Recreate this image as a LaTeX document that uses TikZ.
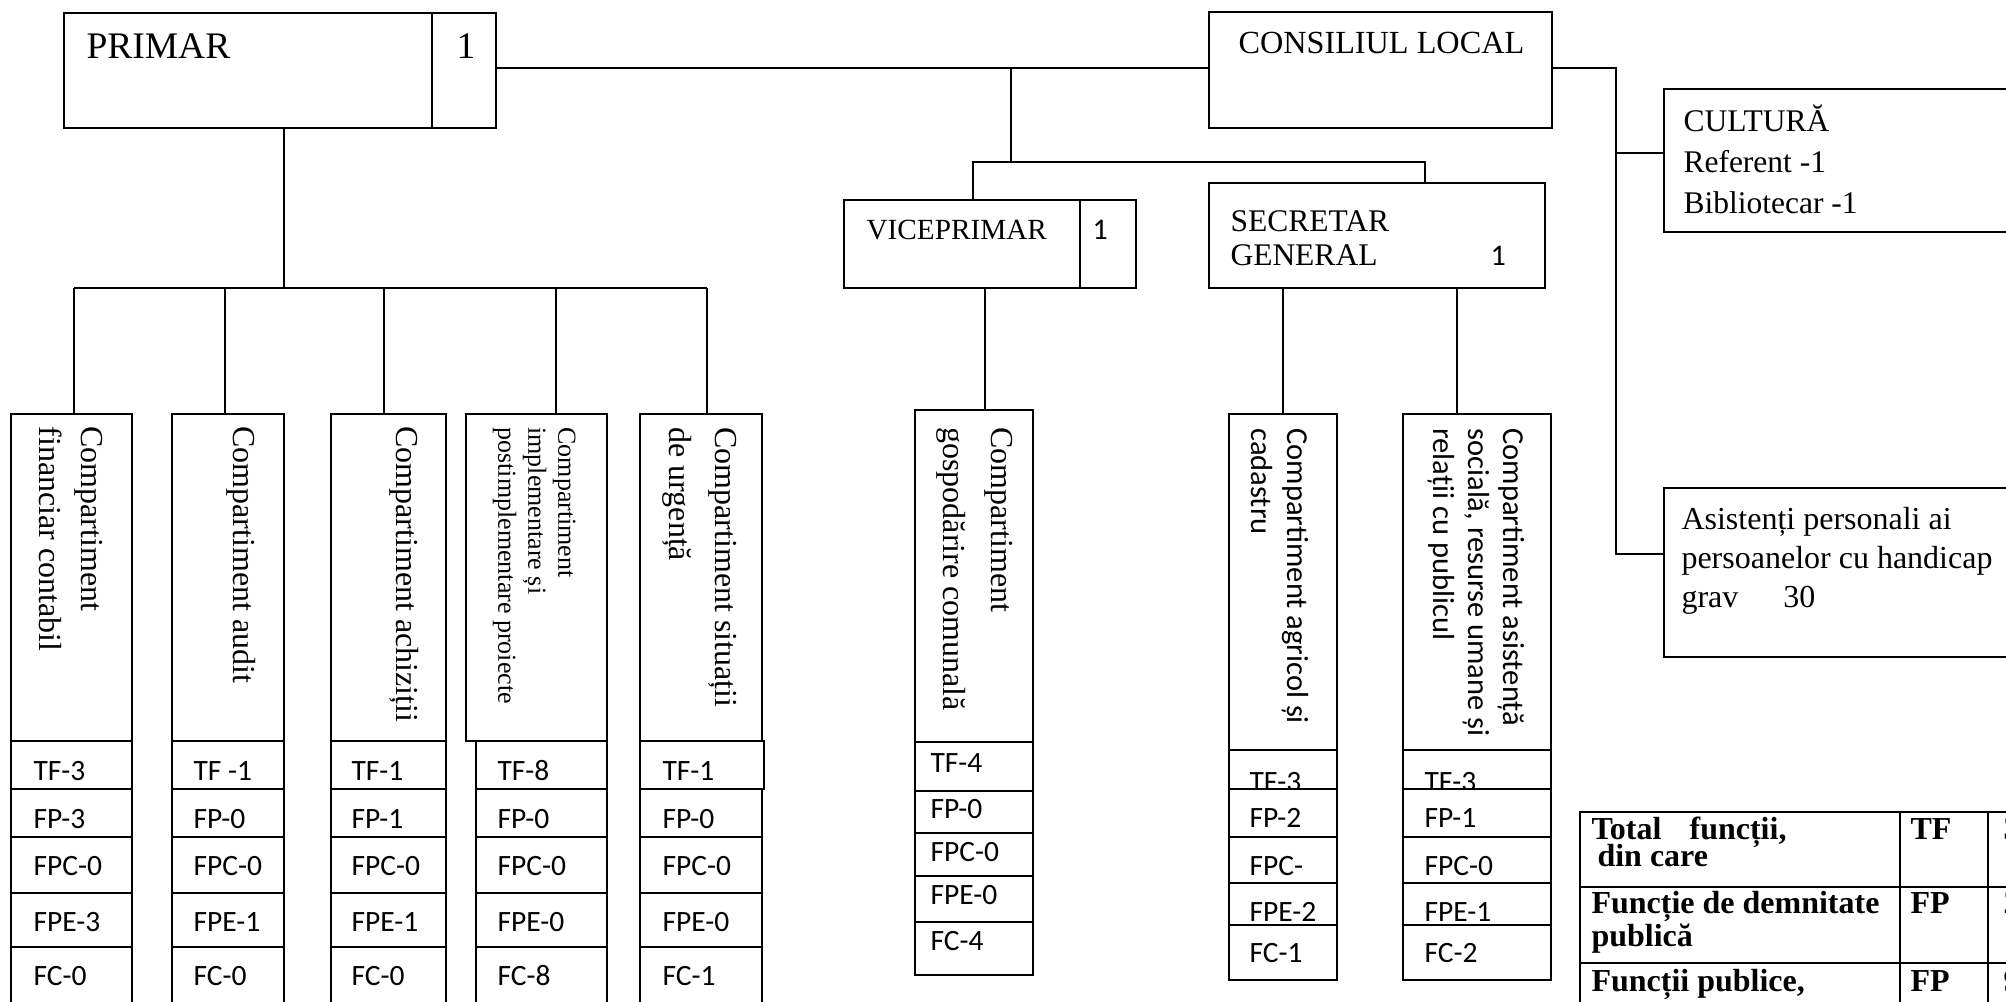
\documentclass[tikz,border=0pt]{standalone}
\usepackage{fontspec}
\setmainfont{Liberation Serif}
\newfontfamily\calib{Carlito}
\usepackage{tikz}

\begin{document}
\begin{tikzpicture}[
    x=0.4pt, y=-0.4pt,
    box/.style = {rectangle, draw, line width=0.8pt, inner sep=0pt, fill=white},
    txt/.style = {anchor=base west, inner sep=0pt, font=\fontsize{12.6}{15}\selectfont},
    num/.style = {anchor=base west, inner sep=0pt, font=\calib\fontsize{11.8}{14}\selectfont},
    vtxt/.style = {anchor=north west, rotate=-90, inner sep=0pt, align=left},
    tbl/.style = {anchor=base west, inner sep=0pt, font=\bfseries\fontsize{12.8}{15}\selectfont},
    conn/.style = {line width=0.8pt}
]

\useasboundingbox (0,0) rectangle (2006,1001);
\clip (0,0) rectangle (2006,1001);

% Top level
\node[box, minimum width=147.2pt, minimum height=46pt] (primar) at (248,70.5) {};
\node[box, minimum width=25.6pt, minimum height=46pt] (primarnr) at (464,70.5) {};
\node[txt, font=\fontsize{15}{18}\selectfont] at (86,58) {PRIMAR};
\node[txt, font=\fontsize{15}{18}\selectfont] at (456,58) {1};

\node[box, minimum width=137.2pt, minimum height=46.4pt] (consiliul) at (1380.5,70) {};
\node[txt, font=\fontsize{12.9}{15}\selectfont] at (1238,53) {CONSILIUL LOCAL};

\node[box, minimum width=94.4pt, minimum height=35.2pt] (vice) at (962,244) {};
\node[box, minimum width=22.4pt, minimum height=35.2pt] (vicenr) at (1108,244) {};
\node[txt, font=\fontsize{11.7}{14}\selectfont] at (866,239) {VICEPRIMAR};
\node[num, font=\calib\fontsize{12}{14}\selectfont] at (1092,239) {1};

\node[box, minimum width=134.4pt, minimum height=42pt] (secretar) at (1377,235.5) {};
\node[txt] at (1230,231) {SECRETAR};
\node[txt] at (1230,265) {GENERAL};
\node[num, font=\calib\fontsize{12}{14}\selectfont] at (1490,265) {1};

\node[box, minimum width=174.4pt, minimum height=57.2pt] (cultura) at (1882,160.5) {};
\node[txt] at (1683,131) {CULTURĂ};
\node[txt] at (1683,172) {Referent -1};
\node[txt] at (1683,213) {Bibliotecar -1};

\node[box, minimum width=174.4pt, minimum height=67.6pt] (asistenti) at (1882,572.5) {};
\node[txt, font=\fontsize{12.8}{15}\selectfont] at (1681,529) {Asistenți personali ai};
\node[txt, font=\fontsize{12.8}{15}\selectfont] at (1681,568) {persoanelor cu handicap};
\node[txt, font=\fontsize{12.8}{15}\selectfont] at (1681,607) {grav\hspace{18pt}30};

% Compartments under PRIMAR
\node[box, minimum width=48.4pt, minimum height=130.8pt] (fin) at (71.5,577.5) {};
\node[box, minimum width=48.4pt, minimum height=19.2pt] (fintf) at (71.5,765) {};
\node[box, minimum width=48.4pt, minimum height=19.2pt] (finfp) at (71.5,813) {};
\node[box, minimum width=48.4pt, minimum height=22.4pt] (finfpc) at (71.5,865) {};
\node[box, minimum width=48.4pt, minimum height=21.6pt] (finfpe) at (71.5,920) {};
\node[box, minimum width=48.4pt, minimum height=25.2pt] (finfc) at (71.5,978.5) {};

\node[box, minimum width=44.8pt, minimum height=130.8pt] (audit) at (228,577.5) {};
\node[box, minimum width=44.8pt, minimum height=19.2pt] (audittf) at (228,765) {};
\node[box, minimum width=44.8pt, minimum height=19.2pt] (auditfp) at (228,813) {};
\node[box, minimum width=44.8pt, minimum height=22.4pt] (auditfpc) at (228,865) {};
\node[box, minimum width=44.8pt, minimum height=21.6pt] (auditfpe) at (228,920) {};
\node[box, minimum width=44.8pt, minimum height=25.2pt] (auditfc) at (228,978.5) {};

\node[box, minimum width=46pt, minimum height=130.8pt] (achiz) at (388.5,577.5) {};
\node[box, minimum width=46pt, minimum height=19.2pt] (achiztf) at (388.5,765) {};
\node[box, minimum width=46pt, minimum height=19.2pt] (achizfp) at (388.5,813) {};
\node[box, minimum width=46pt, minimum height=22.4pt] (achizfpc) at (388.5,865) {};
\node[box, minimum width=46pt, minimum height=21.6pt] (achizfpe) at (388.5,920) {};
\node[box, minimum width=46pt, minimum height=25.2pt] (achizfc) at (388.5,978.5) {};

\node[box, minimum width=56.4pt, minimum height=130.8pt] (impl) at (536.5,577.5) {};
\node[box, minimum width=52.4pt, minimum height=19.2pt] (impltf) at (541.5,765) {};
\node[box, minimum width=52.4pt, minimum height=19.2pt] (implfp) at (541.5,813) {};
\node[box, minimum width=52.4pt, minimum height=22.4pt] (implfpc) at (541.5,865) {};
\node[box, minimum width=52.4pt, minimum height=21.6pt] (implfpe) at (541.5,920) {};
\node[box, minimum width=52.4pt, minimum height=25.2pt] (implfc) at (541.5,978.5) {};

\node[box, minimum width=48.8pt, minimum height=130.8pt] (urg) at (701,577.5) {};
\node[box, minimum width=49.6pt, minimum height=19.2pt] (urgtf) at (702,765) {};
\node[box, minimum width=48.8pt, minimum height=19.2pt] (urgfp) at (701,813) {};
\node[box, minimum width=48.8pt, minimum height=22.4pt] (urgfpc) at (701,865) {};
\node[box, minimum width=48.8pt, minimum height=21.6pt] (urgfpe) at (701,920) {};
\node[box, minimum width=48.8pt, minimum height=25.2pt] (urgfc) at (701,978.5) {};

% Titles (rotated)
\node[vtxt, font=\fontsize{12.8}{16.8}\selectfont] at (103,426) {Compartiment\\financiar contabil};
\node[vtxt, font=\fontsize{12.8}{16.8}\selectfont] at (256,426) {Compartiment audit};
\node[vtxt, font=\fontsize{12.8}{16.8}\selectfont] at (419,426) {Compartiment achiziții};
\node[vtxt, font=\fontsize{10.4}{12}\selectfont] at (576,427) {Compartiment\\implementare și\\postimplementare proiecte};
\node[vtxt, font=\fontsize{12.8}{18.4}\selectfont] at (737,427) {Compartiment situații\\de urgență};

% Numbers
\node[num] at (33,780) {TF-3};
\node[num] at (33,828) {FP-3};
\node[num] at (33,875) {FPC-0};
\node[num] at (33,931) {FPE-3};
\node[num] at (33,985) {FC-0};

\node[num] at (193,780) {TF -1};
\node[num] at (193,828) {FP-0};
\node[num] at (193,875) {FPC-0};
\node[num] at (193,931) {FPE-1};
\node[num] at (193,985) {FC-0};

\node[num] at (351,780) {TF-1};
\node[num] at (351,828) {FP-1};
\node[num] at (351,875) {FPC-0};
\node[num] at (351,931) {FPE-1};
\node[num] at (351,985) {FC-0};

\node[num] at (497,780) {TF-8};
\node[num] at (497,828) {FP-0};
\node[num] at (497,875) {FPC-0};
\node[num] at (497,931) {FPE-0};
\node[num] at (497,985) {FC-8};

\node[num] at (662,780) {TF-1};
\node[num] at (662,828) {FP-0};
\node[num] at (662,875) {FPC-0};
\node[num] at (662,931) {FPE-0};
\node[num] at (662,985) {FC-1};

% Compartment under VICEPRIMAR
\node[box, minimum width=47.2pt, minimum height=132.8pt] (gosp) at (974,576) {};
\node[box, minimum width=47.2pt, minimum height=19.6pt] (gosptf) at (974,766.5) {};
\node[box, minimum width=47.2pt, minimum height=16.8pt] (gospfp) at (974,812) {};
\node[box, minimum width=47.2pt, minimum height=17.2pt] (gospfpc) at (974,854.5) {};
\node[box, minimum width=47.2pt, minimum height=18.4pt] (gospfpe) at (974,899) {};
\node[box, minimum width=47.2pt, minimum height=21.2pt] (gospfc) at (974,948.5) {};
\node[vtxt, font=\fontsize{12.8}{19.2}\selectfont] at (1013,427) {Compartiment\\gospodărire comunală};
\node[num] at (930,772) {TF-4};
\node[num] at (930,818) {FP-0};
\node[num] at (930,861) {FPC-0};
\node[num] at (930,904) {FPE-0};
\node[num] at (930,950) {FC-4};

% Compartments under SECRETAR GENERAL
\node[box, minimum width=43.2pt, minimum height=134.4pt] (agric) at (1283,582) {};
\node[vtxt, font=\calib\fontsize{12.2}{14.4}\selectfont] at (1309,428) {Compartiment agricol și\\cadastru};
\node[box, minimum width=43.2pt, minimum height=15.6pt] (agrictf) at (1283,769.5) {};
\node[num] at (1249,791) {TF-3};
\node[box, minimum width=43.2pt, minimum height=19.2pt] (agricfp) at (1283,813) {};
\node[box, minimum width=43.2pt, minimum height=18.4pt] (agricfpc) at (1283,860) {};
\node[box, minimum width=43.2pt, minimum height=16.8pt] (agricfpe) at (1283,904) {};
\node[box, minimum width=43.2pt, minimum height=22pt] (agricfc) at (1283,952.5) {};
\node[num] at (1249,827.5) {FP-2};
\node[num] at (1249,875) {FPC-};
\node[num] at (1249,921) {FPE-2};
\node[num] at (1249,962) {FC-1};

\node[box, minimum width=59.2pt, minimum height=134.4pt] (asist) at (1477,582) {};
\node[vtxt, font=\calib\fontsize{12.2}{14}\selectfont] at (1525,428) {Compartiment asistență\\socială, resurse umane și\\relații cu publicul};
\node[box, minimum width=59.2pt, minimum height=15.6pt] (asisttf) at (1477,769.5) {};
\node[num] at (1424,791) {TF-3};
\node[box, minimum width=59.2pt, minimum height=19.2pt] (asistfp) at (1477,813) {};
\node[box, minimum width=59.2pt, minimum height=18.4pt] (asistfpc) at (1477,860) {};
\node[box, minimum width=59.2pt, minimum height=16.8pt] (asistfpe) at (1477,904) {};
\node[box, minimum width=59.2pt, minimum height=22pt] (asistfc) at (1477,952.5) {};
\node[num] at (1424,827.5) {FP-1};
\node[num] at (1424,875) {FPC-0};
\node[num] at (1424,921) {FPE-1};
\node[num] at (1424,962) {FC-2};

% Summary table
\node[box, minimum width=128pt, minimum height=30pt] (tot) at (1740,849.5) {};
\node[box, minimum width=35.2pt, minimum height=30pt] (totc) at (1944,849.5) {};
\node[box, minimum width=44.8pt, minimum height=30pt] (totn) at (2044,849.5) {};
\node[box, minimum width=128pt, minimum height=30.4pt] (dem) at (1740,925) {};
\node[box, minimum width=35.2pt, minimum height=30.4pt] (demc) at (1944,925) {};
\node[box, minimum width=44.8pt, minimum height=30.4pt] (demn) at (2044,925) {};
\node[box, minimum width=128pt, minimum height=30.8pt] (pub) at (1740,1001.5) {};
\node[box, minimum width=35.2pt, minimum height=30.8pt] (pubc) at (1944,1001.5) {};
\node[box, minimum width=44.8pt, minimum height=30.8pt] (pubn) at (2044,1001.5) {};

\node[tbl] at (1591,839) {\makebox[78pt][s]{Total funcții,}};
\node[tbl] at (1597,866) {din care};
\node[tbl] at (1591,913) {Funcție de demnitate};
\node[tbl] at (1591,946) {publică};
\node[tbl] at (1591,991) {Funcții publice,};
\node[tbl] at (1910,839) {TF};
\node[tbl] at (1910,913) {FP};
\node[tbl] at (1910,991) {FP};
\node[tbl] at (2003,839) {3};
\node[tbl] at (2003,913) {2};
\node[tbl] at (2003,991) {9};

% Connectors
\coordinate (pc) at (1011,68);
\coordinate (vl) at (973,162);
\coordinate (vm) at (1011,162);
\coordinate (sl) at (1425,162);
\draw[conn] (primarnr.east |- pc) -- (pc -| consiliul.west);
\draw[conn] (pc) -- (vm);
\draw[conn] (vl |- vice.north) -- (vl) -- (sl) -- (sl |- secretar.north);

\coordinate (pb) at (284,288);
\coordinate (d1) at (74,288);
\coordinate (d2) at (225,288);
\coordinate (d3) at (384,288);
\coordinate (d4) at (556,288);
\coordinate (d5) at (707,288);
\draw[conn] (pb |- primar.south) -- (pb);
\draw[conn] (d1) -- (d5);
\draw[conn] (d1) -- (d1 |- fin.north);
\draw[conn] (d2) -- (d2 |- audit.north);
\draw[conn] (d3) -- (d3 |- achiz.north);
\draw[conn] (d4) -- (d4 |- impl.north);
\draw[conn] (d5) -- (d5 |- urg.north);

\coordinate (vd) at (985,288);
\draw[conn] (vd |- vice.south) -- (vd |- gosp.north);
\coordinate (sd) at (1457,288);
\draw[conn] (agric.north |- secretar.south) -- (agric.north);
\draw[conn] (sd |- secretar.south) -- (sd |- asist.north);

\coordinate (cr) at (1616,68);
\coordinate (ca) at (1616,153);
\coordinate (cb) at (1616,554);
\draw[conn] (consiliul.east |- cr) -- (cr) -- (cb) -- (cb -| asistenti.west);
\draw[conn] (ca) -- (ca -| cultura.west);

\end{tikzpicture}
\end{document}
